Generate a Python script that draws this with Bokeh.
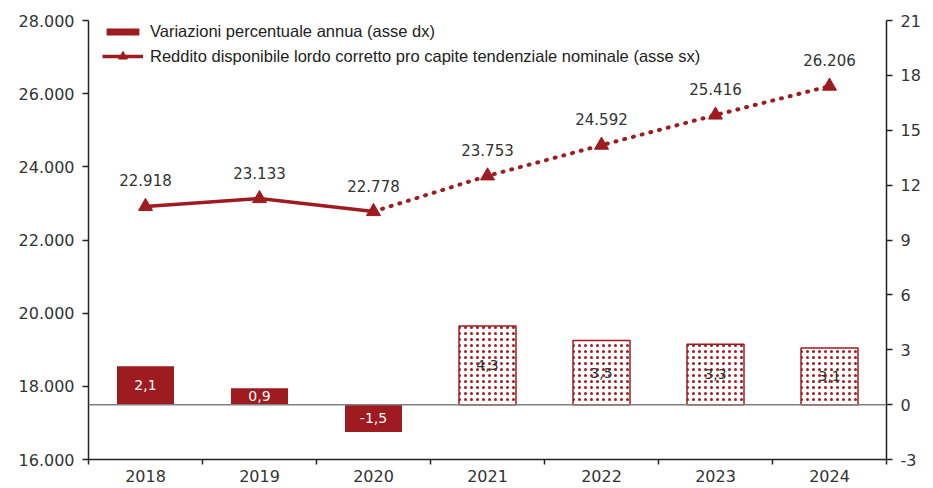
from bokeh.plotting import figure
from bokeh.models import (ColumnDataSource, Range1d, LinearAxis, FixedTicker, Span,
                          Legend, LegendItem)
from bokeh.core.properties import value
from bokeh.embed import file_html
from bokeh.resources import INLINE

years = ["2018", "2019", "2020", "2021", "2022", "2023", "2024"]
reddito = [22918, 23133, 22778, 23753, 24592, 25416, 26206]
variazioni = [2.1, 0.9, -1.5, 4.3, 3.5, 3.3, 3.1]
n_actual = 3  # 2018-2020 actual, 2021-2024 tendential
left_ticks = [16000, 18000, 20000, 22000, 24000, 26000, 28000]
right_ticks = [-3, 0, 3, 6, 9, 12, 15, 18, 21]

RED = "#9E1B20"
FONT = "DejaVu Sans"
LFONT = "Liberation Sans"

def it(v):
    return f"{v:,}".replace(",", ".")

def itd(v):
    return f"{v:.1f}".replace(".", ",")

xs = [i + 0.5 for i in range(len(years))]

p = figure(x_range=Range1d(0, len(years)), y_range=Range1d(16000, 28000),
           frame_width=798, frame_height=439, output_backend="svg",
           toolbar_location=None)
p.min_border_left = 88
p.min_border_top = 20
p.min_border_right = 47
p.min_border_bottom = 29
p.outline_line_color = None
p.xgrid.visible = False
p.ygrid.visible = False
p.background_fill_color = "white"

p.extra_y_ranges = {"right": Range1d(-3, 21)}

# bars
solid_src = ColumnDataSource(dict(x=xs[:n_actual], top=variazioni[:n_actual],
                                  ly=[v / 2 for v in variazioni[:n_actual]],
                                  lab=[itd(v) for v in variazioni[:n_actual]]))
hatch_src = ColumnDataSource(dict(x=xs[n_actual:], top=variazioni[n_actual:],
                                  ly=[v / 2 for v in variazioni[n_actual:]],
                                  lab=[itd(v) for v in variazioni[n_actual:]]))
bars_solid = p.vbar(x="x", top="top", bottom=0, width=0.5, source=solid_src,
                    fill_color=RED, line_color=None, y_range_name="right")
p.vbar(x="x", top="top", bottom=0, width=0.5, source=hatch_src,
       fill_color="white", line_color=RED, line_width=1.5,
       hatch_pattern="dot", hatch_color=RED, hatch_scale=6, hatch_weight=1.1,
       y_range_name="right")

zero = Span(location=0, dimension="width", y_range_name="right",
            line_color="#808080", line_width=1.5)
p.add_layout(zero)

p.text(x="x", y="ly", text="lab", source=solid_src, y_range_name="right",
       text_color="white", text_font=value(FONT), text_font_size="14px",
       text_align="center", text_baseline="middle")
p.text(x="x", y="ly", text="lab", source=hatch_src, y_range_name="right",
       text_color="#333333", text_font=value(FONT), text_font_size="14px",
       text_align="center", text_baseline="middle")

# line
line_solid = p.line(xs[:n_actual], reddito[:n_actual], line_color=RED, line_width=3.5)
p.line(xs[n_actual - 1:], reddito[n_actual - 1:], line_color=RED, line_width=4,
       line_dash="1 8", line_cap="round")
line_src = ColumnDataSource(dict(x=xs, y=reddito, lab=[it(v) for v in reddito]))
pts = p.scatter(x="x", y="y", source=line_src, marker="triangle", size=14,
                fill_color=RED, line_color=RED)
p.text(x="x", y="y", text="lab", source=line_src, y_offset=-26,
       text_color="#333333", text_font=value(FONT), text_font_size="15px",
       text_align="center", text_baseline="middle")

# axes
ly = p.yaxis[0]
ly.ticker = FixedTicker(ticks=left_ticks)
ly.major_label_overrides = {t: it(t) for t in left_ticks}
ra = LinearAxis(y_range_name="right", ticker=FixedTicker(ticks=right_ticks))
ra.major_label_overrides = {t: str(t) for t in right_ticks}
p.add_layout(ra, "right")

for ax in (ly, ra):
    ax.axis_line_color = "#222222"
    ax.axis_line_width = 1.5
    ax.major_tick_line_color = "#222222"
    ax.major_tick_line_width = 1.5
    ax.major_tick_out = 6
    ax.major_tick_in = 0
    ax.minor_tick_line_color = None
    ax.major_label_text_font = FONT
    ax.major_label_text_font_size = "16px"
    ax.major_label_text_color = "#333333"
    ax.major_label_standoff = 8

xa = p.xaxis[0]
xa.ticker = FixedTicker(ticks=xs, minor_ticks=list(range(len(years) + 1)))
xa.major_label_overrides = {x: y for x, y in zip(xs, years)}
xa.axis_line_color = "#222222"
xa.axis_line_width = 1.5
xa.major_tick_line_color = None
xa.minor_tick_line_color = "#222222"
xa.minor_tick_line_width = 1.5
xa.minor_tick_out = 5
xa.minor_tick_in = 0
xa.major_tick_out = 5
xa.major_label_text_font = FONT
xa.major_label_text_font_size = "16px"
xa.major_label_text_color = "#333333"
xa.major_label_standoff = 5

legend1 = Legend(items=[
    LegendItem(label="Variazioni percentuale annua (asse dx)", renderers=[bars_solid]),
], location=(14, 418))
legend2 = Legend(items=[
    LegendItem(label="Reddito disponibile lordo corretto pro capite tendenziale nominale (asse sx)",
               renderers=[line_solid, pts]),
], location=(14, 392))
for lg, gh in ((legend1, 9), (legend2, 22)):
    lg.border_line_color = None
    lg.background_fill_alpha = 0
    lg.padding = 0
    lg.margin = 0
    lg.spacing = 0
    lg.glyph_width = 41
    lg.glyph_height = gh
    lg.label_height = 18
    lg.label_standoff = 7
    lg.label_text_font = LFONT
    lg.label_text_font_size = "16.5px"
    lg.label_text_color = "#222222"
    lg.label_text_baseline = "middle"
    p.add_layout(lg, "center")

open("out.html", "w").write(file_html(p, INLINE))
